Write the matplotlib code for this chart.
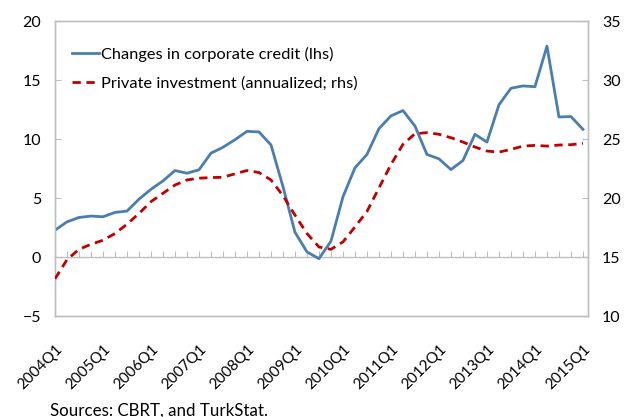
import matplotlib
matplotlib.use("Agg")
import matplotlib.pyplot as plt
import numpy as np

plt.rcParams['font.family'] = ['Lato', 'DejaVu Sans']

years = list(range(2004, 2016))
quarters = [f"{y}Q{q}" for y in range(2004, 2016) for q in range(1, 5)][:45]
tick_labels = [f"{y}Q1" for y in years]

credit = [2.27, 2.98, 3.35, 3.47, 3.41, 3.78, 3.89, 4.9, 5.74, 6.45, 7.33, 7.1, 7.39,
          8.8, 9.3, 9.94, 10.65, 10.6, 9.5, 5.97, 2.1, 0.43, -0.14, 1.34, 5.1,
          7.56, 8.69, 10.88, 11.96, 12.41, 11.1, 8.69, 8.32, 7.41, 8.18, 10.4,
          9.74, 12.9, 14.3, 14.5, 14.43, 17.87, 11.87, 11.9, 10.82]
investment = [13.15, 14.77, 15.65, 16.08, 16.42, 16.99, 17.78, 18.69, 19.69, 20.4, 21.1, 21.53, 21.68,
              21.73, 21.76, 22.05, 22.33, 22.16, 21.53, 20.2, 18.55, 16.99, 15.85, 15.65, 16.28,
              17.55, 18.86, 20.85, 22.84, 24.55, 25.45, 25.54, 25.4, 25.11, 24.74, 24.32,
              23.98, 23.89, 24.12, 24.4, 24.46, 24.4, 24.49, 24.52, 24.63]

x = np.arange(len(quarters))

fig = plt.figure(figsize=(6.29, 4.17), dpi=100)
ax = fig.add_axes([0.0874, 0.2422, 0.8474, 0.7074])
ax2 = ax.twinx()

gray = '#BFBFBF'
blue = '#4A7EB0'
red = '#C00000'

l1, = ax.plot(x, credit, color=blue, lw=2.0, solid_joinstyle='round', zorder=3,
              label='Changes in corporate credit (lhs)')
l2, = ax2.plot(x, investment, color=red, lw=2.0, ls=(0, (3, 2)), zorder=3,
               label='Private investment (annualized; rhs)')

ax.set_xlim(0, 44.42)
ax.set_ylim(-5, 20)
ax2.set_ylim(10, 35)
ax.set_yticks([-5, 0, 5, 10, 15, 20])
ax2.set_yticks([10, 15, 20, 25, 30, 35])

for a in (ax, ax2):
    for s in a.spines.values():
        s.set_color(gray)
        s.set_linewidth(1.0)

ax.tick_params(axis='y', direction='in', length=4, color=gray, labelsize=11.5, pad=10)
ax2.tick_params(axis='y', direction='in', length=4, color=gray, labelsize=11.5, pad=10)

ax.set_xticks([4 * i for i in range(len(tick_labels))])
ax.set_xticklabels(tick_labels, rotation=45, ha='right', rotation_mode='anchor', fontsize=11)
ax.tick_params(axis='x', length=0, pad=19)

sec = ax.secondary_xaxis(0.2)
sec.set_xticks(x)
sec.set_xticklabels([])
sec.tick_params(axis='x', direction='in', length=4, color=gray)
sec.spines['bottom'].set_color(gray)
sec.spines['bottom'].set_linewidth(1.0)

leg = ax.legend(handles=[l1, l2], loc='upper left', bbox_to_anchor=(0.005, 0.962),
                frameon=False, fontsize=11.8, handlelength=1.6, handletextpad=0.15,
                labelspacing=0.85)
leg.set_zorder(5)

fig.text(0.0795, 1 - 415.5 / 417, 'Sources: CBRT, and TurkStat.', fontsize=12.2,
         ha='left', va='baseline')

fig.savefig('out.png', dpi=100)
